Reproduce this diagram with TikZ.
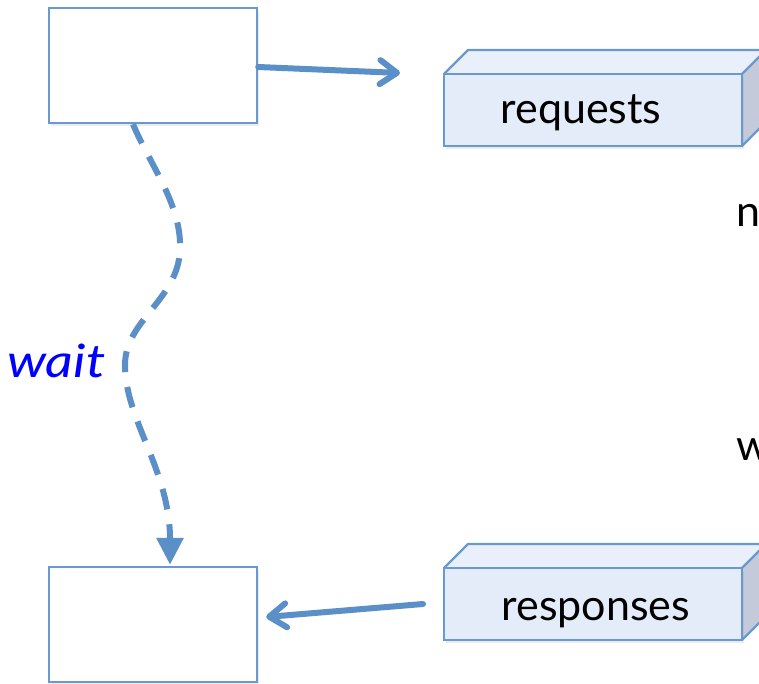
\documentclass[tikz,border=0pt]{standalone}
\usepackage{fontspec}
\setmainfont{Lato}
\usetikzlibrary{arrows.meta,shadows}

\definecolor{linkblue}{RGB}{91,143,199}
\definecolor{edgeblue}{RGB}{104,153,208}
\definecolor{frontfill}{RGB}{228,236,250}
\definecolor{topfill}{RGB}{233,239,251}
\definecolor{sidefill}{RGB}{196,202,218}
\definecolor{waitblue}{RGB}{0,0,255}

\tikzset{
  procbox/.style={draw=edgeblue, line width=2.4pt, fill=white, minimum width=208pt,
    minimum height=115pt, inner sep=0pt,
    drop shadow={shadow xshift=2pt, shadow yshift=-3pt, opacity=0.15}},
  queuefront/.style={draw=edgeblue, line width=2.4pt, fill=frontfill, minimum width=298pt,
    minimum height=72pt, inner sep=0pt,
    drop shadow={shadow xshift=2pt, shadow yshift=-3pt, opacity=0.15}},
  queueface/.style={draw=edgeblue, line width=2.4pt, line join=round},
  link/.style={draw=linkblue, line width=6pt, line cap=round,
    -{Straight Barb[length=17pt, width=24pt, line width=6pt, round]}},
  waitlink/.style={draw=linkblue, line width=6pt, dash pattern=on 21pt off 15pt,
    -{Triangle[length=27pt, width=26pt]}},
  label/.style={font=\fontsize{43}{50}\selectfont, text=black, inner sep=0pt},
}

\begin{document}
\begin{tikzpicture}[x=1pt,y=-1pt]
  \useasboundingbox (0,0) rectangle (759,684);
  \clip (0,0) rectangle (759,684);

  % client process: before and after the wait
  \node[procbox] (caller) at (153,65.5) {};
  \node[procbox] (callee) at (153,624.5) {};

  % request queue drawn as a slab
  \fill[topfill] (444,74) -- (468,50) -- (790,50) -- (766,74) -- cycle;
  \fill[sidefill] (742,74) -- (766,50) -- (766,122) -- (742,146) -- cycle;
  \draw[queueface] (444,74) -- (468,50) -- (790,50);
  \draw[queueface] (742,146) -- (766,122) -- (766,50) (742,74) -- (766,50);
  \node[queuefront] (reqq) at (593,110) {};
  \node[label, anchor=base] (reqtext) at (581,124) {requests};

  % response queue drawn as a slab
  \fill[topfill] (444,568) -- (468,544) -- (790,544) -- (766,568) -- cycle;
  \fill[sidefill] (742,568) -- (766,544) -- (766,616) -- (742,640) -- cycle;
  \draw[queueface] (444,568) -- (468,544) -- (790,544);
  \draw[queueface] (742,640) -- (766,616) -- (766,544) (742,568) -- (766,544);
  \node[queuefront] (respq) at (593,604) {};
  \node[label, anchor=base] (resptext) at (596,620) {responses};

  % words running on past the right margin
  \node[label, anchor=base west] (ntext) at (736,227) {n};
  \node[label, anchor=base west] (wtext) at (736,460) {w};

  % send and receive arrows
  \coordinate (sendend) at (400,73);
  \coordinate (recvstart) at (423,604);
  \draw[link] ([yshift=-1.5pt]caller.east) -- (sendend);
  \draw[link] (recvstart) -- ([xshift=8pt,yshift=7.5pt]callee.east);

  % waiting period
  \coordinate (waitstart) at ([xshift=-20pt]caller.south);
  \coordinate (waitend) at ([xshift=17pt,yshift=1pt]callee.north);
  \draw[waitlink] (waitstart) .. controls (150,165) and (182,205) .. (180,250)
    .. controls (178,300) and (125,320) .. (125,365)
    .. controls (125,420) and (170,470) .. (waitend);
  \node[label, font=\fontsize{46}{52}\selectfont\itshape, text=waitblue, anchor=base west]
    (waittext) at (7,377) {\scalebox{1.18}[1]{wait}};
\end{tikzpicture}
\end{document}
